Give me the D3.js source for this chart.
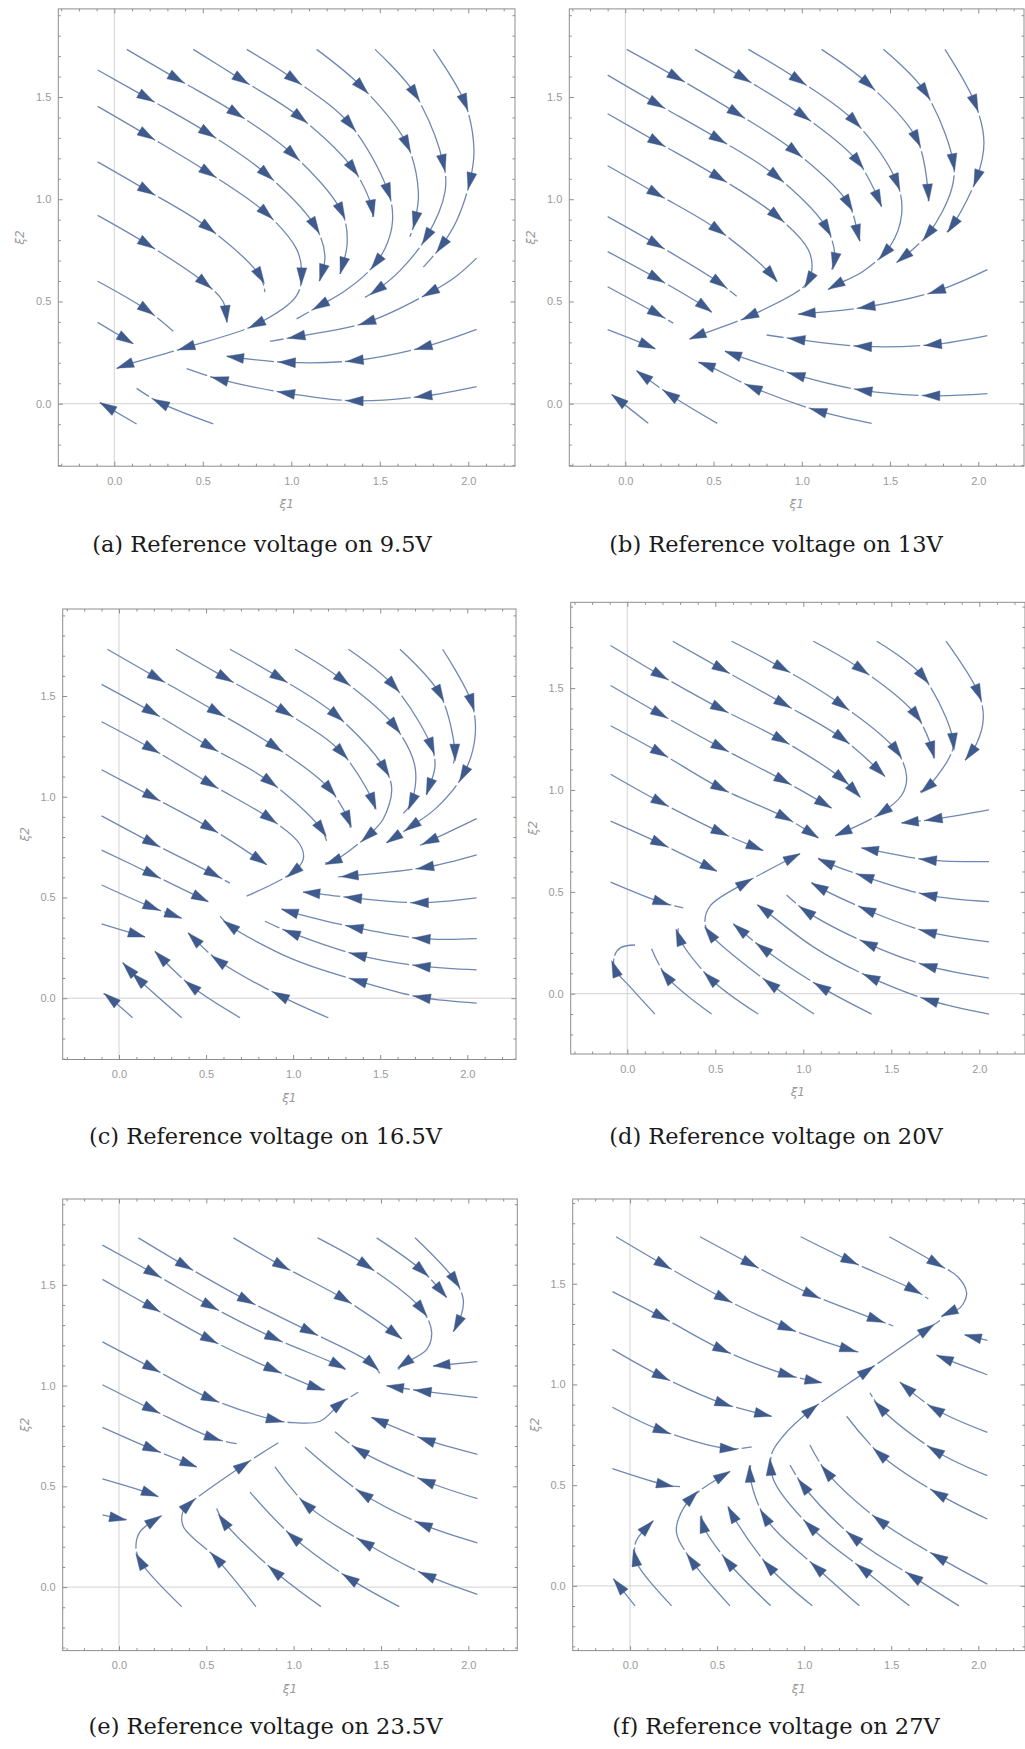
<!DOCTYPE html>
<html><head><meta charset="utf-8">
<script src="https://cdn.jsdelivr.net/npm/d3@7"></script>
<style>body{margin:0;background:#fff}svg{display:block}</style>
</head><body><svg id="c" width="1025" height="1749"></svg>
<script>
const xTickValues=[0,0.5,1,1.5,2];
const yTickValues=[0,0.5,1,1.5];
const xLabel="ξ1", yLabel="ξ2";
const captions=["(a) Reference voltage on 9.5V","(b) Reference voltage on 13V","(c) Reference voltage on 16.5V","(d) Reference voltage on 20V","(e) Reference voltage on 23.5V","(f) Reference voltage on 27V"];

const linesA=[
 [[0.07,1.733],[0.352,1.59],[0.691,1.419],[1.011,1.218],[1.284,0.939],[1.316,0.791],[1.275,0.634]],
 [[0.446,1.733],[0.719,1.585],[1.049,1.401],[1.35,1.148],[1.454,0.965],[1.46,0.913]],
 [[0.748,1.733],[1.017,1.585],[1.331,1.367],[1.548,1.035],[1.572,0.895],[1.53,0.76],[1.44,0.65],[1.3,0.55],[1.162,0.48],[1.03,0.415]],
 [[1.143,1.733],[1.397,1.55],[1.652,1.271],[1.718,1.035],[1.699,0.895],[1.67,0.817]],
 [[1.473,1.733],[1.699,1.515],[1.859,1.175],[1.868,1.035],[1.765,0.817],[1.614,0.651],[1.482,0.555],[1.416,0.52]],
 [[1.802,1.733],[1.981,1.471],[2.032,1.244],[2.009,1.087],[1.934,0.895],[1.849,0.773],[1.746,0.668]],
 [[-0.094,1.632],[0.183,1.497],[0.531,1.323],[0.861,1.122],[1.134,0.869],[1.19,0.721],[1.158,0.599]],
 [[-0.094,1.454],[0.183,1.314],[0.531,1.131],[0.861,0.93],[1.03,0.756],[1.058,0.651],[1.03,0.529],[0.804,0.389],[0.409,0.276],[0.06,0.188],[0.013,0.171]],
 [[-0.094,1.183],[0.183,1.044],[0.531,0.86],[0.823,0.625],[0.851,0.546]],
 [[-0.094,0.921],[0.183,0.782],[0.512,0.59],[0.616,0.497],[0.635,0.398]],
 [[-0.094,0.599],[0.183,0.459],[0.333,0.354]],
 [[-0.094,0.398],[0.107,0.293]],
 [[2.047,0.712],[1.934,0.625],[1.783,0.543],[1.426,0.398],[1.03,0.328],[0.879,0.305]],
 [[2.047,0.363],[1.746,0.276],[1.36,0.211],[0.974,0.202],[0.635,0.232]],
 [[2.047,0.084],[1.746,0.037],[1.36,0.014],[0.974,0.052],[0.597,0.119],[0.409,0.171]],
 [[0.559,-0.099],[0.258,0.005],[0.126,0.075]],
 [[0.126,-0.099],[-0.081,0.005]]
];
const arrowsA=[[0.352,1.59],[0.719,1.585],[1.017,1.585],[1.397,1.55],[1.699,1.515],[1.981,1.471],[0.183,1.497],[0.691,1.419],[1.049,1.401],[1.331,1.367],[1.652,1.271],[1.859,1.175],[0.183,1.314],[0.531,1.323],[1.011,1.218],[1.35,1.148],[1.548,1.035],[2.009,1.087],[0.183,1.044],[0.531,1.131],[0.861,1.122],[1.284,0.939],[1.454,0.93],[1.699,0.895],[1.765,0.817],[1.849,0.773],[0.183,0.782],[0.531,0.86],[0.861,0.93],[1.134,0.869],[1.482,0.686],[1.783,0.543],[0.183,0.459],[0.512,0.59],[0.823,0.625],[1.049,0.625],[1.162,0.616],[1.275,0.642],[0.079,0.311],[0.635,0.407],[1.162,0.48],[1.426,0.398],[0.804,0.389],[1.482,0.555],[0.409,0.276],[0.06,0.188],[1.03,0.328],[1.746,0.276],[0.672,0.232],[0.974,0.202],[1.36,0.211],[0.597,0.119],[0.974,0.052],[1.36,0.014],[1.746,0.037],[0.258,0.005],[-0.043,-0.012]];

const linesB=[
 [[0.008,1.733],[0.291,1.596],[0.631,1.421],[0.961,1.234],[1.263,0.98],[1.32,0.823],[1.33,0.796]],
 [[0.395,1.733],[0.669,1.593],[1.008,1.409],[1.32,1.182],[1.452,0.963]],
 [[0.697,1.733],[0.98,1.584],[1.301,1.379],[1.537,1.085],[1.566,0.928],[1.5,0.77],[1.348,0.648],[1.188,0.578],[1.15,0.557]],
 [[1.112,1.733],[1.377,1.563],[1.651,1.295],[1.717,1.024],[1.717,0.99]],
 [[1.462,1.733],[1.698,1.526],[1.858,1.182],[1.849,1.05],[1.717,0.831],[1.537,0.691]],
 [[1.811,1.733],[1.981,1.47],[2.032,1.278],[1.991,1.103],[1.849,0.866],[1.821,0.84]],
 [[-0.1,1.607],[0.178,1.467],[0.527,1.295],[0.857,1.112],[1.141,0.858],[1.188,0.718],[1.169,0.656]],
 [[-0.1,1.418],[0.178,1.281],[0.527,1.108],[0.857,0.919],[1.037,0.753],[1.056,0.648],[1.018,0.578],[0.706,0.429],[0.395,0.327],[0.366,0.315]],
 [[-0.1,1.164],[0.178,1.027],[0.527,0.849],[0.829,0.63],[0.857,0.595]],
 [[-0.1,0.915],[0.178,0.779],[0.527,0.595],[0.631,0.525]],
 [[-0.1,0.744],[0.178,0.613],[0.451,0.473],[0.489,0.446]],
 [[-0.1,0.572],[0.178,0.441],[0.272,0.394]],
 [[-0.1,0.362],[0.14,0.28],[0.168,0.268]],
 [[2.051,0.656],[1.764,0.551],[1.367,0.473],[0.98,0.438]],
 [[2.051,0.333],[1.745,0.289],[1.348,0.28],[0.971,0.315],[0.801,0.336]],
 [[2.051,0.049],[1.736,0.039],[1.348,0.065],[0.971,0.14],[0.602,0.245],[0.565,0.257]],
 [[1.396,-0.096],[1.093,-0.035],[0.725,0.079],[0.461,0.189],[0.414,0.201]],
 [[0.521,-0.096],[0.253,0.044],[0.064,0.161]],
 [[0.13,-0.096],[-0.049,0.026],[-0.077,0.044]]
];
const arrowsB=[[0.291,1.596],[0.669,1.593],[0.98,1.584],[1.377,1.563],[1.698,1.526],[1.981,1.47],[0.178,1.467],[0.631,1.421],[1.008,1.409],[1.301,1.379],[1.651,1.295],[1.858,1.182],[0.178,1.281],[0.527,1.295],[0.961,1.234],[1.32,1.182],[1.537,1.085],[1.991,1.103],[0.178,1.027],[0.527,1.108],[0.857,1.112],[1.263,0.98],[1.717,1.0],[1.452,0.97],[0.178,0.779],[0.527,0.849],[0.857,0.919],[1.141,0.858],[1.717,0.831],[1.849,0.866],[0.178,0.613],[0.536,0.595],[0.829,0.63],[1.018,0.613],[1.169,0.665],[1.32,0.814],[0.178,0.441],[0.451,0.473],[0.706,0.429],[1.188,0.578],[1.462,0.744],[1.537,0.691],[0.14,0.28],[0.395,0.327],[1.367,0.473],[1.764,0.551],[0.971,0.315],[1.348,0.28],[1.745,0.289],[1.018,0.438],[0.602,0.245],[0.971,0.14],[1.348,0.065],[1.736,0.039],[0.461,0.189],[0.725,0.079],[1.093,-0.035],[-0.049,0.026],[0.253,0.044],[0.07,0.16]];

const linesC=[
 [[-0.067,1.732],[0.216,1.591],[0.561,1.421],[0.896,1.248],[1.211,1.037],[1.326,0.863],[1.326,0.845]],
 [[0.327,1.732],[0.609,1.591],[0.953,1.421],[1.278,1.22],[1.46,0.973],[1.47,0.937]],
 [[0.637,1.732],[0.921,1.591],[1.25,1.403],[1.527,1.138],[1.566,1.037],[1.518,0.891],[1.432,0.808],[1.231,0.68],[1.183,0.671]],
 [[1.011,1.732],[1.288,1.577],[1.585,1.348],[1.7,1.147],[1.68,0.973],[1.633,0.918]],
 [[1.317,1.732],[1.575,1.553],[1.795,1.248],[1.814,1.147],[1.776,1.037],[1.766,1.01]],
 [[1.613,1.732],[1.843,1.509],[1.929,1.22],[1.92,1.165]],
 [[1.858,1.732],[2.025,1.467],[2.044,1.293],[1.977,1.11],[1.824,0.946],[1.68,0.854],[1.537,0.772]],
 [[-0.1,1.558],[0.188,1.421],[0.522,1.248],[0.867,1.074],[1.164,0.836],[1.192,0.781]],
 [[-0.1,1.372],[0.188,1.238],[0.522,1.065],[0.867,0.891],[1.039,0.763],[1.058,0.69],[1.001,0.626],[0.733,0.507]],
 [[-0.1,1.134],[0.188,1.001],[0.522,0.845],[0.819,0.68],[0.848,0.662]],
 [[-0.1,0.905],[0.188,0.772],[0.542,0.616],[0.637,0.571]],
 [[-0.1,0.735],[0.188,0.616],[0.513,0.479]],
 [[-0.1,0.562],[0.188,0.452],[0.36,0.397]],
 [[-0.1,0.369],[0.121,0.311],[0.149,0.305]],
 [[2.054,0.891],[1.786,0.781],[1.728,0.759]],
 [[2.054,0.712],[1.757,0.649],[1.326,0.607],[1.259,0.602]],
 [[2.054,0.498],[1.728,0.474],[1.345,0.498],[1.078,0.525],[1.058,0.525]],
 [[2.054,0.296],[1.738,0.296],[1.355,0.351],[0.963,0.434],[0.934,0.443]],
 [[2.054,0.141],[1.738,0.159],[1.374,0.214],[0.991,0.324],[0.838,0.382]],
 [[2.054,-0.024],[1.738,0.004],[1.374,0.086],[0.991,0.196],[0.637,0.36],[0.58,0.406]],
 [[1.202,-0.097],[0.924,0.013],[0.57,0.187],[0.398,0.324]],
 [[0.695,-0.097],[0.417,0.059],[0.207,0.232]],
 [[0.36,-0.097],[0.111,0.095],[0.021,0.177]],
 [[0.078,-0.097],[-0.071,0.013],[-0.09,0.022]]
];
const arrowsC=[[0.216,1.591],[0.609,1.591],[0.921,1.591],[1.288,1.577],[1.575,1.553],[1.843,1.509],[2.025,1.467],[0.188,1.421],[0.561,1.421],[0.953,1.421],[1.25,1.403],[1.585,1.348],[1.795,1.248],[1.92,1.22],[0.188,1.238],[0.522,1.248],[0.896,1.248],[1.278,1.22],[1.527,1.138],[1.977,1.11],[0.188,1.001],[0.522,1.065],[0.867,1.074],[1.211,1.037],[1.46,0.973],[1.326,0.863],[1.68,0.973],[1.776,1.037],[0.188,0.772],[0.522,0.845],[0.867,0.891],[1.164,0.836],[1.422,0.808],[1.68,0.854],[1.786,0.781],[0.188,0.616],[0.542,0.616],[0.819,0.68],[1.001,0.626],[1.231,0.68],[1.537,0.772],[0.188,0.452],[0.522,0.488],[1.326,0.607],[1.757,0.649],[0.121,0.311],[0.36,0.397],[1.078,0.525],[1.345,0.498],[1.728,0.474],[0.963,0.434],[1.355,0.351],[1.738,0.296],[0.991,0.324],[1.374,0.214],[1.738,0.159],[0.637,0.36],[1.374,0.086],[1.738,0.004],[0.924,0.013],[0.57,0.187],[0.417,0.059],[0.111,0.095],[-0.071,0.013],[0.21,0.23],[0.4,0.32],[0.025,0.17]];

const linesD=[
 [[0.258,1.73],[0.536,1.594],[0.886,1.424],[1.218,1.255],[1.455,1.074],[1.464,1.065]],
 [[0.593,1.73],[0.877,1.6],[1.218,1.418],[1.53,1.192],[1.587,1.065],[1.559,0.974],[1.436,0.883],[1.18,0.775]],
 [[1.057,1.73],[1.331,1.591],[1.644,1.364],[1.739,1.174],[1.739,1.155]],
 [[1.417,1.73],[1.682,1.555],[1.852,1.237],[1.833,1.165],[1.701,1.01],[1.663,0.992]],
 [[1.811,1.73],[1.994,1.477],[2.023,1.355],[1.985,1.228],[1.919,1.146]],
 [[-0.095,1.709],[0.186,1.564],[0.527,1.4],[0.877,1.246],[1.218,1.056],[1.322,0.965]],
 [[-0.095,1.513],[0.186,1.373],[0.527,1.21],[0.886,1.047],[1.161,0.911]],
 [[-0.095,1.315],[0.186,1.183],[0.527,1.01],[0.896,0.865],[1.085,0.765]],
 [[-0.095,1.077],[0.186,0.941],[0.527,0.793],[0.773,0.702]],
 [[-0.095,0.847],[0.186,0.738],[0.508,0.602]],
 [[-0.095,0.548],[0.195,0.448],[0.318,0.421]],
 [[0.157,-0.1],[0.02,0.03],[-0.07,0.12],[-0.075,0.18],[-0.04,0.225],[0.044,0.239]],
 [[0.479,-0.1],[0.223,0.085],[0.138,0.221]],
 [[0.744,-0.1],[0.47,0.076],[0.29,0.285],[0.29,0.321]],
 [[1.061,-0.1],[0.811,0.049],[0.47,0.294],[0.441,0.348],[0.47,0.43],[0.659,0.539],[0.981,0.687]],
 [[1.388,-0.1],[1.104,0.031],[0.773,0.221],[0.602,0.343]],
 [[2.055,0.902],[1.739,0.856],[1.559,0.838]],
 [[2.055,0.648],[1.71,0.657],[1.36,0.711],[1.331,0.715]],
 [[2.055,0.452],[1.71,0.484],[1.35,0.575],[1.114,0.651],[1.085,0.666]],
 [[2.055,0.254],[1.71,0.303],[1.36,0.412],[1.057,0.539],[1.047,0.548]],
 [[2.055,0.076],[1.71,0.136],[1.369,0.245],[1.019,0.403],[0.905,0.484]],
 [[2.055,-0.1],[1.72,-0.033],[1.369,0.085],[1.057,0.23],[0.763,0.421],[0.739,0.435]]
];
const arrowsD=[[0.186,1.564],[0.536,1.594],[0.877,1.6],[1.331,1.591],[1.682,1.555],[1.994,1.477],[0.186,1.373],[0.527,1.4],[0.886,1.424],[1.218,1.418],[1.644,1.364],[1.852,1.237],[1.919,1.155],[0.186,1.183],[0.527,1.21],[0.877,1.246],[1.218,1.255],[1.53,1.192],[1.455,1.074],[1.701,1.01],[1.735,1.165],[0.186,0.941],[0.527,1.01],[0.886,1.047],[1.218,1.056],[1.445,0.902],[1.322,0.965],[0.186,0.738],[0.527,0.793],[0.896,0.865],[1.161,0.911],[1.227,0.784],[0.195,0.448],[0.47,0.611],[0.754,0.711],[1.085,0.765],[0.981,0.687],[0.669,0.539],[1.739,0.856],[1.578,0.838],[1.36,0.711],[1.71,0.657],[1.114,0.651],[1.35,0.575],[1.71,0.484],[1.057,0.539],[1.36,0.412],[1.71,0.303],[1.019,0.403],[1.369,0.245],[1.71,0.136],[0.763,0.421],[0.773,0.221],[1.104,0.031],[1.72,-0.033],[1.388,0.085],[0.602,0.348],[0.47,0.294],[0.47,0.076],[0.811,0.049],[0.29,0.303],[0.223,0.085],[-0.07,0.122]];

const linesE=[
 [[0.111,1.733],[0.378,1.595],[0.721,1.428],[1.074,1.276],[1.437,1.115],[1.494,1.061]],
 [[0.655,1.733],[0.931,1.595],[1.284,1.432],[1.58,1.258],[1.618,1.231]],
 [[1.137,1.733],[1.418,1.595],[1.733,1.378],[1.79,1.267],[1.761,1.178],[1.628,1.106],[1.599,1.079]],
 [[1.475,1.733],[1.733,1.572],[1.876,1.437]],
 [[1.695,1.733],[1.924,1.521],[1.971,1.428],[1.962,1.357],[1.914,1.267]],
 [[-0.095,1.697],[0.197,1.557],[0.521,1.396],[0.884,1.237],[1.265,1.097],[1.294,1.079]],
 [[-0.095,1.527],[0.187,1.389],[0.521,1.228],[0.884,1.079],[1.151,0.984],[1.179,0.981]],
 [[-0.095,1.217],[0.187,1.088],[0.521,0.936],[0.893,0.829],[0.998,0.816],[1.151,0.823],[1.265,0.909],[1.37,0.967]],
 [[-0.095,1.004],[0.187,0.882],[0.54,0.739],[0.674,0.712]],
 [[-0.095,0.793],[0.187,0.686],[0.445,0.596]],
 [[-0.095,0.537],[0.187,0.462],[0.225,0.447]],
 [[-0.095,0.358],[0.025,0.336],[0.044,0.336]],
 [[0.359,-0.097],[0.12,0.131],[0.097,0.202],[0.12,0.274],[0.244,0.354]],
 [[0.784,-0.097],[0.559,0.14],[0.368,0.301],[0.365,0.372],[0.397,0.408],[0.712,0.605],[0.912,0.716]],
 [[1.156,-0.097],[0.893,0.077],[0.597,0.328],[0.559,0.39]],
 [[1.605,-0.097],[1.323,0.041],[0.998,0.247],[0.75,0.471]],
 [[2.052,1.119],[1.8,1.097]],
 [[2.052,0.94],[1.742,0.972],[1.532,0.999]],
 [[2.052,0.659],[1.761,0.73],[1.456,0.838],[1.447,0.841]],
 [[2.052,0.439],[1.761,0.524],[1.38,0.677],[1.237,0.771]],
 [[2.052,0.22],[1.742,0.31],[1.399,0.462],[1.065,0.694]],
 [[2.052,-0.036],[1.761,0.059],[1.408,0.22],[1.074,0.408],[0.893,0.596]]
];
const arrowsE=[[0.197,1.557],[0.378,1.595],[0.931,1.595],[1.418,1.595],[1.733,1.572],[1.924,1.521],[0.187,1.389],[0.521,1.396],[0.731,1.428],[1.284,1.432],[1.733,1.378],[1.924,1.285],[1.857,1.437],[0.521,1.228],[0.884,1.237],[1.094,1.276],[1.58,1.258],[0.187,1.088],[0.884,1.079],[1.265,1.097],[1.447,1.106],[1.628,1.106],[0.187,0.882],[0.521,0.936],[1.151,0.984],[0.187,0.686],[0.54,0.739],[0.893,0.829],[1.265,0.909],[0.187,0.462],[0.445,0.596],[0.712,0.605],[0.397,0.408],[0.025,0.336],[0.225,0.354],[0.12,0.131],[0.559,0.14],[0.893,0.077],[1.323,0.041],[1.761,0.059],[1.8,1.097],[1.532,0.999],[1.742,0.972],[1.456,0.838],[1.761,0.73],[1.38,0.677],[1.761,0.524],[1.399,0.462],[1.742,0.31],[1.074,0.408],[1.408,0.22],[0.998,0.247],[0.597,0.328]];

const linesF=[
 [[-0.08,1.733],[0.191,1.595],[0.536,1.428],[0.9,1.281],[1.254,1.174],[1.311,1.161]],
 [[0.402,1.733],[0.689,1.6],[1.043,1.446],[1.416,1.321],[1.512,1.29]],
 [[0.98,1.733],[1.263,1.613],[1.627,1.47],[1.713,1.425]],
 [[1.489,1.733],[1.761,1.6],[1.885,1.532],[1.933,1.452],[1.895,1.38],[1.833,1.357],[1.789,1.335]],
 [[-0.101,1.461],[0.182,1.335],[0.526,1.174],[0.9,1.048],[1.1,1.009]],
 [[-0.101,1.174],[0.182,1.039],[0.536,0.905],[0.813,0.842]],
 [[-0.101,0.887],[0.182,0.771],[0.565,0.681],[0.699,0.69]],
 [[-0.101,0.582],[0.201,0.502],[0.287,0.493]],
 [[0.029,-0.099],[-0.096,0.036]],
 [[0.239,-0.099],[0.038,0.116],[0.029,0.206],[0.048,0.242],[0.134,0.323]],
 [[0.574,-0.099],[0.354,0.125],[0.268,0.26],[0.278,0.332],[0.354,0.439],[0.574,0.568]],
 [[0.808,-0.099],[0.565,0.116],[0.421,0.296],[0.411,0.349]],
 [[1.047,-0.099],[0.794,0.099],[0.584,0.358],[0.565,0.394]],
 [[1.317,-0.099],[1.072,0.09],[0.775,0.341],[0.689,0.547],[0.693,0.6]],
 [[1.604,-0.099],[1.34,0.081],[1.033,0.296],[0.823,0.529],[0.813,0.654],[0.88,0.744],[1.033,0.869],[1.359,1.066],[1.703,1.272],[1.78,1.317]],
 [[1.889,-0.099],[1.627,0.045],[1.282,0.242],[0.995,0.496],[0.919,0.6]],
 [[2.052,1.219],[1.923,1.246]],
 [[2.052,1.048],[1.78,1.138],[1.761,1.147]],
 [[2.052,0.762],[1.751,0.878],[1.56,1.004],[1.55,1.013]],
 [[2.052,0.547],[1.751,0.672],[1.435,0.887],[1.378,0.959]],
 [[2.052,0.332],[1.77,0.457],[1.435,0.654],[1.244,0.842]],
 [[2.052,0.009],[1.77,0.143],[1.435,0.323],[1.129,0.565],[1.033,0.699]]
];
const arrowsF=[[0.191,1.595],[0.689,1.6],[1.263,1.613],[1.761,1.6],[0.536,1.428],[1.043,1.446],[1.627,1.47],[1.833,1.357],[0.182,1.335],[0.9,1.281],[1.416,1.321],[0.526,1.174],[1.254,1.174],[0.182,1.039],[0.9,1.048],[1.072,1.013],[0.536,0.905],[0.794,0.842],[0.182,0.771],[0.565,0.681],[0.201,0.502],[1.948,1.246],[1.78,1.138],[1.56,1.004],[1.751,0.878],[1.435,0.887],[1.751,0.672],[1.435,0.654],[1.77,0.457],[1.129,0.565],[1.435,0.323],[1.77,0.143],[0.995,0.496],[1.282,0.242],[1.627,0.045],[1.033,0.296],[1.34,0.081],[0.775,0.341],[1.072,0.09],[0.584,0.358],[0.794,0.099],[0.411,0.341],[0.565,0.116],[0.354,0.125],[0.354,0.439],[0.574,0.568],[0.038,0.143],[0.134,0.323],[-0.092,0.036],[0.81,0.591],[1.043,0.869],[1.359,1.066],[1.703,1.272],[0.689,0.582]];

const panels=[
 {lines:linesA,arrows:arrowsA},{lines:linesB,arrows:arrowsB},
 {lines:linesC,arrows:arrowsC},{lines:linesD,arrows:arrowsD},
 {lines:linesE,arrows:arrowsE},{lines:linesF,arrows:arrowsF}
];
// pixel layout: tick anchors and frame rectangles
const layout=[
 {x0:114.3,x2:468.3,y0:403.7,y15:97.0,fl:58.3,fr:515,ft:8.9,fb:466.2,cx:262,cb:552},
 {x0:625.3,x2:978.3,y0:403.7,y15:97.0,fl:569.3,fr:1024,ft:8.9,fb:466.2,cx:776,cb:552},
 {x0:119,x2:467.3,y0:998.2,y15:696.0,fl:62.7,fr:516,ft:609,fb:1059.5,cx:265.5,cb:1144},
 {x0:627.3,x2:979.3,y0:993.7,y15:688.1,fl:570.7,fr:1025,ft:602.3,fb:1054,cx:776,cb:1144},
 {x0:119,x2:468.3,y0:1587.1,y15:1284.8,fl:62.7,fr:517.3,ft:1199,fb:1650.6,cx:265.5,cb:1734},
 {x0:630,x2:978.3,y0:1585.9,y15:1283.7,fl:572.7,fr:1025,ft:1199,fb:1650.6,cx:776,cb:1734}
];

const svg=d3.select('#c');
svg.append('rect').attr('width',1025).attr('height',1749).attr('fill','#fff');
const LINE_COL='#6f88b3', ARROW_COL='#3f5a8c', FRAME_COL='#8e8e8e', LABEL_COL='#9a9a9a';
const AL=17, AW=10, GAP=3;

panels.forEach((p,i)=>{
 const L=layout[i];
 const x=d3.scaleLinear().domain([0,2]).range([L.x0,L.x2]);
 const y=d3.scaleLinear().domain([0,1.5]).range([L.y0,L.y15]);
 const g=svg.append('g');
 const clipId='clip'+i;
 svg.append('clipPath').attr('id',clipId).append('rect')
   .attr('x',L.fl).attr('y',L.ft).attr('width',L.fr-L.fl).attr('height',L.fb-L.ft);
 g.append('line').attr('x1',x(0)).attr('x2',x(0)).attr('y1',L.ft).attr('y2',L.fb).attr('stroke','#d2d2d2').attr('stroke-width',1);
 g.append('line').attr('x1',L.fl).attr('x2',L.fr).attr('y1',y(0)).attr('y2',y(0)).attr('stroke','#d2d2d2').attr('stroke-width',1);
 const xd=[x.invert(L.fl),x.invert(L.fr)], yd=[y.invert(L.fb),y.invert(L.ft)];
 const isMajor=v=>Math.abs(v*2-Math.round(v*2))<1e-6;
 const minorX=d3.range(Math.ceil(xd[0]*10),Math.floor(xd[1]*10)+1).map(v=>v/10).filter(v=>!isMajor(v));
 const minorY=d3.range(Math.ceil(yd[0]*10),Math.floor(yd[1]*10)+1).map(v=>v/10).filter(v=>!isMajor(v));
 const majorX=d3.range(Math.ceil(xd[0]*2),Math.floor(xd[1]*2)+1).map(v=>v/2);
 const majorY=d3.range(Math.ceil(yd[0]*2),Math.floor(yd[1]*2)+1).map(v=>v/2);
 const fmt=d3.format('.1f');
 function styleAxis(sel){sel.select('.domain').remove();sel.selectAll('line').attr('stroke',FRAME_COL);sel.selectAll('text').attr('fill',LABEL_COL).style('font-family','Liberation Sans, Arial, sans-serif').style('font-size','11px');}
 g.append('g').attr('transform',`translate(0,${L.fb})`).call(d3.axisBottom(x).tickValues(minorX).tickSize(-2.5).tickFormat('')).call(styleAxis);
 g.append('g').attr('transform',`translate(0,${L.fb})`).call(d3.axisBottom(x).tickValues(majorX).tickSize(-4.5).tickPadding(11).tickFormat(d=>xTickValues.includes(d)?fmt(d):'')).call(styleAxis);
 g.append('g').attr('transform',`translate(0,${L.ft})`).call(d3.axisTop(x).tickValues(minorX).tickSize(-2.5).tickFormat('')).call(styleAxis);
 g.append('g').attr('transform',`translate(0,${L.ft})`).call(d3.axisTop(x).tickValues(majorX).tickSize(-4.5).tickFormat('')).call(styleAxis);
 g.append('g').attr('transform',`translate(${L.fl},0)`).call(d3.axisLeft(y).tickValues(minorY).tickSize(-2.5).tickFormat('')).call(styleAxis);
 g.append('g').attr('transform',`translate(${L.fl},0)`).call(d3.axisLeft(y).tickValues(majorY).tickSize(-4.5).tickPadding(7).tickFormat(d=>yTickValues.includes(d)?fmt(d):'')).call(styleAxis);
 g.append('g').attr('transform',`translate(${L.fr},0)`).call(d3.axisRight(y).tickValues(minorY).tickSize(-2.5).tickFormat('')).call(styleAxis);
 g.append('g').attr('transform',`translate(${L.fr},0)`).call(d3.axisRight(y).tickValues(majorY).tickSize(-4.5).tickFormat('')).call(styleAxis);
 g.append('rect').attr('x',L.fl).attr('y',L.ft).attr('width',L.fr-L.fl).attr('height',L.fb-L.ft)
   .attr('fill','none').attr('stroke',FRAME_COL).attr('stroke-width',1);
 g.append('text').attr('x',(L.fl+L.fr)/2).attr('y',L.fb+42).attr('text-anchor','middle')
   .attr('fill',LABEL_COL).style('font-family','DejaVu Sans, sans-serif').style('font-size','12px').style('font-style','italic').text(xLabel);
 g.append('text').attr('transform',`translate(${L.fl-34},${(L.ft+L.fb)/2}) rotate(-90)`).attr('text-anchor','middle')
   .attr('fill',LABEL_COL).style('font-family','DejaVu Sans, sans-serif').style('font-size','12px').style('font-style','italic').text(yLabel);
 // streamlines
 const line=d3.line().x(d=>x(d[0])).y(d=>y(d[1])).curve(d3.curveCatmullRom.alpha(0.5));
 const sg=g.append('g').attr('clip-path',`url(#${clipId})`);
 const paths=sg.selectAll('path.s').data(p.lines).join('path').attr('class','s').attr('d',line)
   .attr('fill','none').attr('stroke',LINE_COL).attr('stroke-width',1.3);
 const samples=[], lens=[];
 paths.each(function(){const len=this.getTotalLength();lens.push(len);const pts=[];for(let s=0;s<len;s+=1)pts.push(this.getPointAtLength(s));pts.push(this.getPointAtLength(len));samples.push(pts);});
 const gaps=samples.map(()=>[]);
 const h=Math.round(AL/2);
 p.arrows.forEach(a=>{
   const px=x(a[0]),py=y(a[1]);
   let best=null,bd=Infinity;
   samples.forEach((pts,pi)=>pts.forEach((q,k)=>{const d=(q.x-px)**2+(q.y-py)**2;if(d<bd){bd=d;best={pts,k,pi};}}));
   const pts=best.pts;
   let k=Math.min(best.k,pts.length-1-h); k=Math.max(k,Math.min(h,pts.length-1));
   const k0=Math.max(0,k-4),k1=Math.min(pts.length-1,k+4);
   let dx=pts[k1].x-pts[k0].x,dy=pts[k1].y-pts[k0].y;const n=Math.hypot(dx,dy)||1;dx/=n;dy/=n;
   const c=pts[k];
   const tip=[c.x+dx*AL/2,c.y+dy*AL/2], b=[c.x-dx*AL/2,c.y-dy*AL/2];
   const p1=[b[0]-dy*AW/2,b[1]+dx*AW/2], p2=[b[0]+dy*AW/2,b[1]-dx*AW/2];
   sg.append('path').attr('d',`M${tip}L${p1}L${p2}Z`).attr('fill',ARROW_COL).attr('stroke',ARROW_COL).attr('stroke-width',0.4).attr('stroke-linejoin','round');
   if(k+h+GAP+4<pts.length-1) gaps[best.pi].push(k+h+1);
 });
 paths.each(function(d,pi){
   const gs=gaps[pi].sort((a,b)=>a-b);if(!gs.length)return;
   const arr=[];let start=0;
   gs.forEach(s=>{if(s<=start)return;arr.push(s-start,GAP);start=s+GAP;});
   arr.push(lens[pi]-start+2,lens[pi]+10);
   d3.select(this).attr('stroke-dasharray',arr.join(' '));
 });
 svg.append('text').attr('x',L.cx).attr('y',L.cb).attr('text-anchor','middle').attr('fill','#1a1a1a')
   .style('font-family','DejaVu Serif, serif').style('font-size','22.5px').text(captions[i]);
});
</script></body></html>
